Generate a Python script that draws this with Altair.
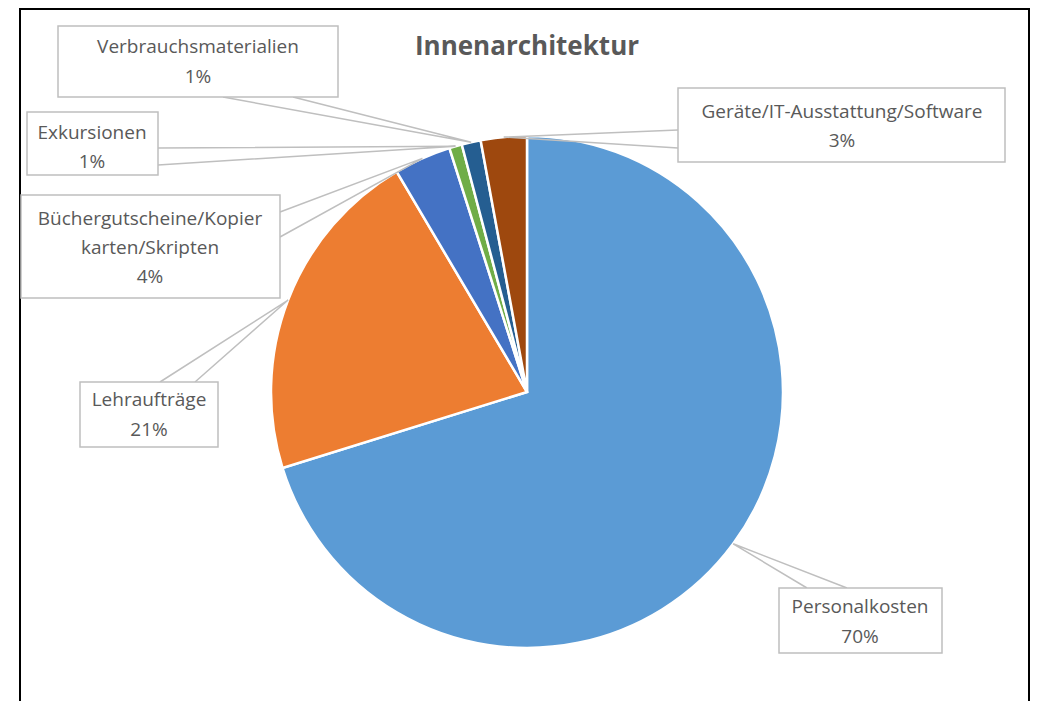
import math
import altair as alt
import pandas as pd

# ---------------- data ----------------
categories = ["Personalkosten", "Lehraufträge", "Büchergutscheine/Kopierkarten/Skripten",
              "Exkursionen", "Verbrauchsmaterialien", "Geräte/IT-Ausstattung/Software"]
values = [70.2, 21.3, 3.6, 0.8, 1.2, 2.9]
label_lines = [["Personalkosten"], ["Lehraufträge"], ["Büchergutscheine/Kopier", "karten/Skripten"],
               ["Exkursionen"], ["Verbrauchsmaterialien"], ["Geräte/IT-Ausstattung/Software"]]
colors = ["#5B9BD5", "#ED7D31", "#4472C4", "#70AD47", "#255E91", "#9E480E"]
title = "Innenarchitektur"

# ---------------- layout (page pixels) ----------------
M = 8  # page margin
W, H = 1022, 693
CX, CY, R = 527 - M, 392 - M, 256
FONT = "Open Sans"
TXT = "#595959"
LEAD = "#BFBFBF"

# label boxes: x, x2, y, y2, text line centres, leader attach points on the box edge
boxes = [
    dict(x=779, x2=942, y=588, y2=653, cx=860, ly=[607, 637], a=[(807, 588), (847, 588)]),
    dict(x=80, x2=218, y=382, y2=447, cx=149, ly=[400, 430], a=[(160, 382), (195, 382)]),
    dict(x=21, x2=280, y=195, y2=298, cx=150, ly=[219, 248, 277], a=[(280, 212), (280, 237)]),
    dict(x=27, x2=158, y=112, y2=175, cx=92, ly=[133, 162], a=[(158, 148), (158, 165)]),
    dict(x=58, x2=338, y=26, y2=97, cx=198, ly=[47, 77], a=[(223, 97), (293, 97)]),
    dict(x=678, x2=1005, y=88, y2=162, cx=842, ly=[112, 141], a=[(678, 130), (678, 148)]),
]

total = sum(values)
pie_df = pd.DataFrame({"cat": categories, "value": values, "idx": list(range(len(values)))})

lead_rows, box_rows, text_rows = [], [], []
cum = 0.0
for i, (c, v) in enumerate(zip(categories, values)):
    mid = (cum + v / 2) / total * 2 * math.pi
    cum += v
    ax = CX + R * math.sin(mid)
    ay = CY - R * math.cos(mid)
    b = boxes[i]
    (p1x, p1y), (p2x, p2y) = b["a"]
    for k, (px, py) in enumerate([(p1x - M, p1y - M), (ax, ay), (p2x - M, p2y - M)]):
        lead_rows.append({"cat": c, "k": k, "x": px, "y": py})
    box_rows.append({"cat": c, "x": b["x"] - M, "x2": b["x2"] - M, "y": b["y"] - M, "y2": b["y2"] - M})
    lines = label_lines[i] + [f"{round(v / total * 100)}%"]
    for t, ly in zip(lines, b["ly"]):
        text_rows.append({"x": b["cx"] - M, "y": ly - M, "t": t})

lead_df = pd.DataFrame(lead_rows)
box_df = pd.DataFrame(box_rows)
text_df = pd.DataFrame(text_rows)

frame = alt.Chart(pd.DataFrame({"d": [0]})).mark_rect(
    fillOpacity=0, stroke="#000000", strokeWidth=2
).encode(x=alt.value(20 - M), x2=alt.value(W - 1), y=alt.value(1), y2=alt.value(H + 20))

pie = alt.Chart(pie_df).mark_arc(outerRadius=R, stroke="white", strokeWidth=2.5).encode(
    theta=alt.Theta("value:Q", stack=True),
    color=alt.Color("cat:N", scale=alt.Scale(domain=categories, range=colors), legend=None),
    order=alt.Order("idx:Q"),
    x=alt.value(CX),
    y=alt.value(CY),
)

leaders = alt.Chart(lead_df).mark_line(color=LEAD, strokeWidth=1.5).encode(
    x=alt.X("x:Q", scale=None, axis=None),
    y=alt.Y("y:Q", scale=None, axis=None),
    detail="cat:N",
    order="k:Q",
)

label_boxes = alt.Chart(box_df).mark_rect(fill="white", stroke=LEAD, strokeWidth=1.5).encode(
    x=alt.X("x:Q", scale=None, axis=None),
    x2="x2:Q",
    y=alt.Y("y:Q", scale=None, axis=None),
    y2="y2:Q",
)

labels = alt.Chart(text_df).mark_text(font=FONT, fontSize=19, color=TXT, align="center",
                                     baseline="middle").encode(
    x=alt.X("x:Q", scale=None, axis=None),
    y=alt.Y("y:Q", scale=None, axis=None),
    text="t:N",
)

title_mark = alt.Chart(pd.DataFrame({"t": [title]})).mark_text(
    font=FONT, fontSize=26, fontWeight="bold", color=TXT, align="center", baseline="middle"
).encode(x=alt.value(527 - M), y=alt.value(47 - M), text="t:N")

chart = alt.layer(frame, pie, leaders, label_boxes, labels, title_mark).properties(
    width=W, height=H, padding=0, autosize=alt.AutoSizeParams(type="none")
).configure_view(strokeWidth=0)

chart.save("out.html", embed_options={"renderer": "svg", "actions": False})
